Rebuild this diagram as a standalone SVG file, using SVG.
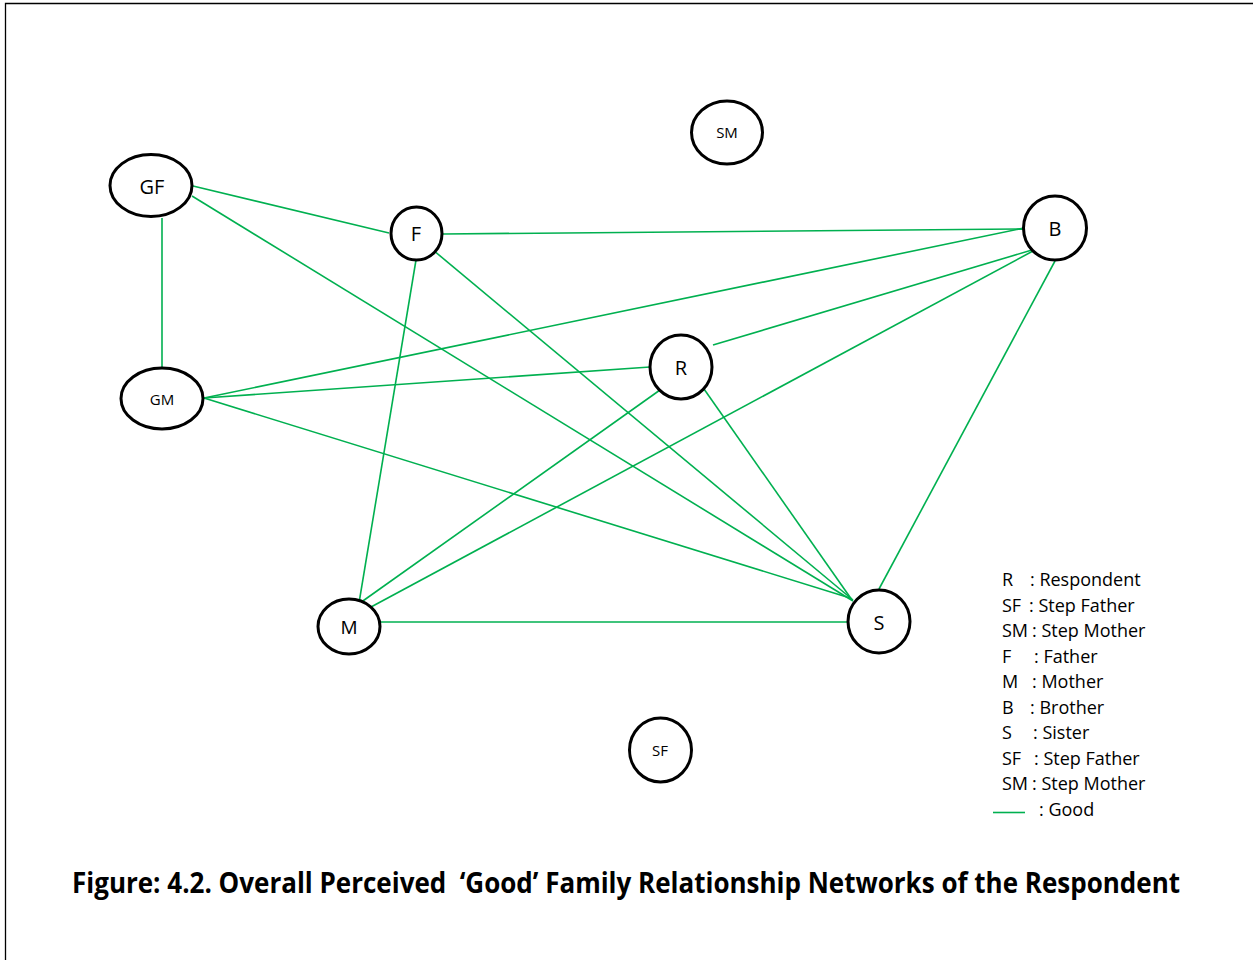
<svg xmlns="http://www.w3.org/2000/svg" width="1253" height="960" viewBox="0 0 1253 960">
<style>
.node{fill:#fff;stroke:#000;stroke-width:3}
.lbl{font-family:"Open Sans","Noto Sans",sans-serif;fill:#000;text-anchor:middle}
.big{font-size:20px}
.small{font-size:15px}
.edge{stroke:#00B050;stroke-width:1.6;fill:none}
.leg{font-family:"Open Sans","Noto Sans",sans-serif;font-size:18px;fill:#000}
.title{font-family:"Open Sans","Noto Sans",sans-serif;font-size:29px;font-weight:bold;fill:#000;white-space:pre}
</style>
<rect x="0" y="0" width="1253" height="960" fill="#fff"/>
<path d="M5.5 960 V3.5 H1253" stroke="#000" stroke-width="1.3" fill="none"/>
<g id="connectors">
<line class="edge" x1="193" y1="186" x2="389" y2="233"/>
<line class="edge" x1="192" y1="196" x2="853" y2="601"/>
<line class="edge" x1="162" y1="218" x2="162" y2="367"/>
<line class="edge" x1="443" y1="234" x2="1023" y2="229"/>
<line class="edge" x1="416" y1="260" x2="359" y2="603"/>
<line class="edge" x1="433" y1="250" x2="853" y2="600"/>
<line class="edge" x1="204" y1="398" x2="1024" y2="228"/>
<line class="edge" x1="713" y1="345" x2="1032" y2="250"/>
<line class="edge" x1="371" y1="607" x2="1033" y2="251"/>
<line class="edge" x1="1055" y1="261" x2="879" y2="589"/>
<line class="edge" x1="204" y1="398" x2="650" y2="367"/>
<line class="edge" x1="204" y1="398" x2="850" y2="598"/>
<line class="edge" x1="660" y1="390" x2="360" y2="603"/>
<line class="edge" x1="704" y1="389" x2="852" y2="600"/>
<line class="edge" x1="381" y1="622" x2="847" y2="622"/>
</g>
<g id="node-GF"><ellipse class="node" cx="151" cy="185.5" rx="41" ry="31"/><text class="lbl big" x="152" y="193.5">GF</text></g>
<g id="node-GM"><ellipse class="node" cx="162" cy="398.5" rx="41" ry="30.5"/><text class="lbl small" x="162" y="405">GM</text></g>
<g id="node-F"><ellipse class="node" cx="416.5" cy="233.5" rx="25.5" ry="26.5"/><text class="lbl big" x="416" y="241">F</text></g>
<g id="node-R"><ellipse class="node" cx="681" cy="367" rx="31" ry="32"/><text class="lbl big" x="681" y="374.5">R</text></g>
<g id="node-S"><ellipse class="node" cx="879" cy="621.5" rx="31" ry="31.5"/><text class="lbl big" x="879" y="629.5">S</text></g>
<g id="node-M"><ellipse class="node" cx="349" cy="626.5" rx="31" ry="27.5"/><text class="lbl" style="font-size:19px" x="349" y="633.5">M</text></g>
<g id="node-B"><ellipse class="node" cx="1055" cy="228" rx="31.5" ry="32"/><text class="lbl big" x="1055" y="236">B</text></g>
<g id="node-SM"><ellipse class="node" cx="727" cy="132.5" rx="35.5" ry="31.5"/><text class="lbl small" x="727" y="138">SM</text></g>
<g id="node-SF"><ellipse class="node" cx="660.5" cy="750" rx="31" ry="32"/><text class="lbl small" x="660" y="756">SF</text></g>
<g id="legend">
<text class="leg" y="586"><tspan x="1002">R</tspan><tspan x="1030">: Respondent</tspan></text>
<text class="leg" y="612"><tspan x="1002">SF</tspan><tspan x="1029">: Step Father</tspan></text>
<text class="leg" y="637"><tspan x="1002">SM</tspan><tspan x="1032">: Step Mother</tspan></text>
<text class="leg" y="663"><tspan x="1002">F</tspan><tspan x="1034">: Father</tspan></text>
<text class="leg" y="688"><tspan x="1002">M</tspan><tspan x="1032">: Mother</tspan></text>
<text class="leg" y="714"><tspan x="1002">B</tspan><tspan x="1030">: Brother</tspan></text>
<text class="leg" y="739"><tspan x="1002">S</tspan><tspan x="1033">: Sister</tspan></text>
<text class="leg" y="765"><tspan x="1002">SF</tspan><tspan x="1034">: Step Father</tspan></text>
<text class="leg" y="790"><tspan x="1002">SM</tspan><tspan x="1032">: Step Mother</tspan></text>
<line class="edge" x1="993" y1="812.5" x2="1025" y2="812.5"/>
<text class="leg" x="1039" y="816">: Good</text>
</g>
<text class="title" x="72" y="893" textLength="1108" lengthAdjust="spacingAndGlyphs">Figure: 4.2. Overall Perceived  ‘Good’ Family Relationship Networks of the Respondent</text>
</svg>
